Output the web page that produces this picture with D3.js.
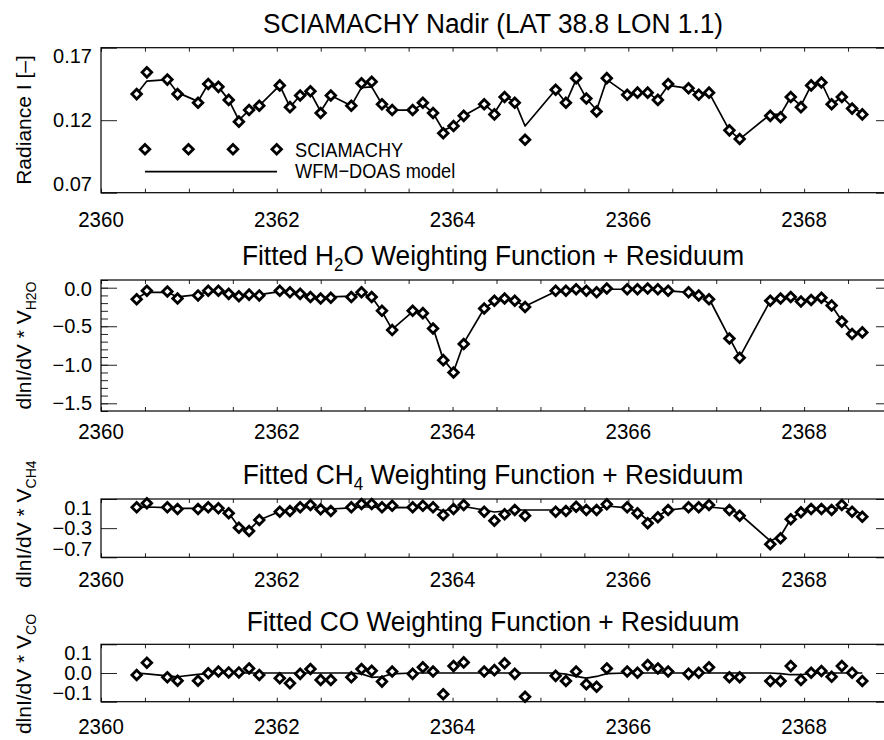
<!DOCTYPE html>
<html><head><meta charset="utf-8">
<script src="https://cdn.jsdelivr.net/npm/d3@7"></script>
<style>
body{margin:0;background:#fff}
svg{display:block}
text{font-family:"Liberation Sans",Arial,Helvetica,sans-serif;fill:#000}
</style>
</head><body>
<svg id="chart" width="884" height="740"></svg>
<script>
// ---------------- DATA ----------------
const wavelength = [2360.406,2360.522,2360.755,2360.871,2361.104,2361.220,2361.336,2361.453,2361.569,2361.685,2361.801,
  2362.034,2362.150,2362.266,2362.383,2362.499,2362.615,2362.848,2362.964,2363.080,2363.197,2363.313,
  2363.546,2363.662,2363.778,2363.894,2364.011,2364.127,2364.360,2364.476,2364.592,2364.708,2364.825,
  2365.173,2365.290,2365.406,2365.522,2365.639,2365.755,2365.987,2366.104,2366.220,2366.336,2366.453,
  2366.685,2366.801,2366.918,2367.150,2367.267,2367.615,2367.732,2367.848,2367.964,2368.080,2368.197,
  2368.313,2368.429,2368.546,2368.662];

const radianceObs = [0.138,0.153,0.148,0.138,0.132,0.145,0.143,0.134,0.119,0.127,0.130,
  0.144,0.129,0.137,0.140,0.125,0.137,0.130,0.1455,0.1465,0.131,0.127,
  0.127,0.132,0.125,0.111,0.116,0.123,0.131,0.124,0.136,0.132,0.1065,
  0.141,0.132,0.149,0.135,0.126,0.149,0.1375,0.139,0.139,0.134,0.145,
  0.142,0.1375,0.139,0.113,0.107,0.123,0.122,0.136,0.129,0.144,0.146,
  0.131,0.136,0.128,0.124];
const radianceModel = [0.138,0.147,0.148,0.139,0.133,0.145,0.143,0.134,0.120,0.127,0.130,
  0.144,0.129,0.137,0.139,0.126,0.137,0.130,0.1425,0.143,0.131,0.127,
  0.127,0.131,0.125,0.113,0.116,0.123,0.131,0.125,0.136,0.133,0.116,
  0.141,0.132,0.148,0.135,0.127,0.148,0.138,0.139,0.139,0.134,0.144,
  0.142,0.138,0.139,0.113,0.107,0.124,0.124,0.136,0.130,0.144,0.146,
  0.131,0.136,0.129,0.125];

const h2oObs = [-0.15,-0.04,-0.05,-0.14,-0.10,-0.04,-0.04,-0.08,-0.11,-0.09,-0.10,
  -0.04,-0.06,-0.08,-0.12,-0.14,-0.13,-0.12,-0.06,-0.12,-0.30,-0.55,
  -0.30,-0.33,-0.53,-0.94,-1.10,-0.73,-0.27,-0.17,-0.14,-0.17,-0.25,
  -0.04,-0.04,-0.02,-0.04,-0.06,-0.01,-0.02,-0.02,-0.01,-0.02,-0.04,
  -0.06,-0.10,-0.15,-0.66,-0.91,-0.17,-0.14,-0.12,-0.18,-0.16,-0.13,
  -0.23,-0.44,-0.60,-0.58];
const h2oModel = [-0.14,-0.06,-0.06,-0.12,-0.09,-0.05,-0.05,-0.08,-0.10,-0.09,-0.09,
  -0.05,-0.07,-0.08,-0.11,-0.13,-0.12,-0.11,-0.07,-0.12,-0.31,-0.54,
  -0.31,-0.33,-0.52,-0.93,-1.09,-0.72,-0.27,-0.18,-0.15,-0.17,-0.24,
  -0.05,-0.05,-0.03,-0.04,-0.06,-0.02,-0.02,-0.02,-0.02,-0.03,-0.04,
  -0.06,-0.10,-0.14,-0.65,-0.90,-0.17,-0.15,-0.13,-0.17,-0.16,-0.14,
  -0.23,-0.43,-0.59,-0.57];

const ch4Obs = [-0.014,0.041,-0.014,-0.037,-0.037,-0.014,-0.028,-0.096,-0.294,-0.339,-0.188,
  -0.074,-0.065,-0.014,0.018,-0.041,-0.065,-0.014,0.031,0.031,-0.014,0.008,
  -0.014,0.008,-0.014,-0.119,-0.037,0.018,-0.074,-0.198,-0.110,-0.051,-0.129,
  -0.074,-0.065,-0.006,-0.051,-0.051,0.027,-0.014,-0.096,-0.233,-0.151,-0.051,
  -0.014,-0.014,0.018,-0.051,-0.129,-0.521,-0.439,-0.178,-0.082,-0.037,-0.037,
  -0.051,0.018,-0.074,-0.143];
const ch4Model = [-0.019,-0.010,-0.019,-0.028,-0.028,-0.019,-0.028,-0.092,-0.284,-0.325,-0.188,
  -0.071,-0.051,-0.023,-0.010,-0.023,-0.037,-0.023,-0.010,-0.010,-0.017,-0.014,
  -0.017,-0.012,-0.023,-0.065,-0.030,-0.003,-0.051,-0.078,-0.065,-0.051,-0.051,
  -0.051,-0.044,-0.017,-0.037,-0.037,0.004,-0.023,-0.078,-0.188,-0.133,-0.051,
  -0.023,-0.017,-0.010,-0.037,-0.106,-0.476,-0.408,-0.174,-0.078,-0.044,-0.044,
  -0.044,-0.010,-0.051,-0.106];

const coObs = [-0.007,0.036,-0.015,-0.027,-0.027,-0.001,0.005,0.002,0.002,0.016,-0.007,
  -0.018,-0.036,-0.003,0.014,-0.024,-0.024,-0.015,0.014,0.008,-0.030,0.005,
  -0.003,0.020,0.005,-0.074,0.024,0.037,0.005,0.010,0.034,-0.003,-0.083,
  -0.010,-0.028,0.005,-0.039,-0.048,0.016,0.005,0.001,0.028,0.016,0.005,
  -0.003,0.001,0.020,-0.015,-0.015,-0.028,-0.028,0.024,-0.024,0.001,0.007,
  -0.013,0.024,0.001,-0.028];
const coModel = [0.000,-0.003,-0.010,-0.013,-0.005,-0.002,0.000,0.000,0.000,0.000,0.000,
  0.000,0.000,0.000,0.000,0.000,0.000,0.000,-0.003,-0.015,-0.013,-0.003,
  0.000,0.000,0.000,0.000,0.000,0.000,0.000,0.000,0.000,0.000,0.000,
  0.000,-0.004,-0.012,-0.018,-0.012,-0.002,0.000,0.000,0.000,0.000,0.000,
  0.000,0.000,0.000,0.000,0.000,0.000,-0.002,-0.006,-0.006,-0.001,0.000,
  0.000,0.000,0.000,0.000];

const xDomain = [2360, 2369];
const xMajorTicks = [2360, 2362, 2364, 2366, 2368];
const xTickLabels = ["2360", "2362", "2364", "2366", "2368"];
const xMinorTicks = [2360,2360.5,2361,2361.5,2362,2362.5,2363,2363.5,2364,2364.5,2365,2365.5,2366,2366.5,2367,2367.5,2368,2368.5,2369];

const p1Ticks = [0.07, 0.12, 0.17];
const p1TickLabels = ["0.07", "0.12", "0.17"];
const p2Ticks = [0.0, -0.5, -1.0, -1.5];
const p2TickLabels = ["0.0", "\u22120.5", "\u22121.0", "\u22121.5"];
const p2MinorTicks = [0.1,0.0,-0.1,-0.2,-0.3,-0.4,-0.5,-0.6,-0.7,-0.8,-0.9,-1.0,-1.1,-1.2,-1.3,-1.4,-1.5,-1.6];
const p3Ticks = [0.1, -0.3, -0.7];
const p3TickLabels = ["0.1", "\u22120.3", "\u22120.7"];
const p4Ticks = [0.1, 0.0, -0.1];
const p4TickLabels = ["0.1", "0.0", "\u22120.1"];

const legendLabels = ["SCIAMACHY", "WFM\u2212DOAS model"];

// ---------------- DRAW ----------------
const svg = d3.select("#chart");
const X0 = 101, X1 = 892;
const x = d3.scaleLinear().domain(xDomain).range([X0, X1]);
const YT_FS = 20, YT_SY = 1.0;     // y tick labels
const XT_FS = 20.5, XT_SY = 1.05;  // x tick labels

const diamond = {draw(ctx, size){const r = Math.sqrt(size/2); ctx.moveTo(0,-r); ctx.lineTo(r,0); ctx.lineTo(0,r); ctx.lineTo(-r,0); ctx.closePath();}};
const sym = d3.symbol().type(diamond).size(46);

function label(parent, px, py, str, fs, anchor, sy){
  return parent.append("text").attr("transform", `translate(${px},${py}) scale(1,${sy})`)
    .attr("text-anchor", anchor).attr("font-size", fs).text(str);
}

function title(parts, yb){
  const t = svg.append("text").attr("transform", `translate(493,${yb}) scale(1,1.05)`).attr("text-anchor","middle").attr("font-size", 26.3);
  parts.forEach(p => {
    const ts = t.append("tspan").text(p.t);
    if (p.sub) ts.attr("font-size", 17).attr("dy", 6);
    if (p.after) ts.attr("dy", -6);
  });
}

function ylabel(parts, cy){
  const t = svg.append("text").attr("transform", `translate(31,${cy}) rotate(-90)`).attr("text-anchor","middle").attr("font-size", 21);
  parts.forEach(p => {
    const ts = t.append("tspan").text(p.t);
    if (p.sub) ts.attr("font-size", 14).attr("dy", 5);
  });
}

function panel(cfg){
  const y = d3.scaleLinear().domain(cfg.domain).range([cfg.bottom, cfg.top]);
  const g = svg.append("g");
  g.append("g").attr("transform", `translate(0,${cfg.bottom})`)
    .call(d3.axisBottom(x).tickValues(xMinorTicks).tickSize(-4).tickFormat(""))
    .call(a => a.select(".domain").remove());
  g.append("g").attr("transform", `translate(0,${cfg.top})`)
    .call(d3.axisTop(x).tickValues(xMinorTicks).tickSize(-4).tickFormat(""))
    .call(a => a.select(".domain").remove());
  if (cfg.minor){
    g.append("g").attr("transform", `translate(${X0},0)`)
      .call(d3.axisLeft(y).tickValues(cfg.minor).tickSize(-7).tickFormat(""))
      .call(a => a.select(".domain").remove());
    g.append("g").attr("transform", `translate(${X1},0)`)
      .call(d3.axisRight(y).tickValues(cfg.minor).tickSize(-7).tickFormat(""))
      .call(a => a.select(".domain").remove());
  }
  g.append("g").attr("transform", `translate(${X0},0)`)
    .call(d3.axisLeft(y).tickValues(cfg.ticks).tickSize(-16).tickFormat(""))
    .call(a => a.select(".domain").remove());
  g.append("g").attr("transform", `translate(${X1},0)`)
    .call(d3.axisRight(y).tickValues(cfg.ticks).tickSize(-16).tickFormat(""))
    .call(a => a.select(".domain").remove());
  g.selectAll(".tick line").attr("stroke", "#222").attr("stroke-width", 1);
  g.append("rect").attr("x", X0).attr("y", cfg.top).attr("width", X1 - X0).attr("height", cfg.bottom - cfg.top)
    .attr("fill", "none").attr("stroke", "#000").attr("stroke-width", 1.2);
  const half = 0.358 * YT_FS * YT_SY;
  cfg.ticks.forEach((v, i) => {
    const cy = Math.min(Math.max(y(v), cfg.top + half + 1.3), cfg.bottom - half - 1.3);
    label(g, 92, cy + half, cfg.labels[i], YT_FS, "end", YT_SY);
  });
  xMajorTicks.forEach((v, i) => {
    label(g, x(v), cfg.xlab, xTickLabels[i], XT_FS, "middle", XT_SY);
  });
  const rows = wavelength.map((w, i) => ({w, o: cfg.obs[i], m: cfg.model[i]}));
  g.append("path").datum(rows)
    .attr("d", d3.line().x(d => x(d.w)).y(d => y(d.m)))
    .attr("fill", "none").attr("stroke", "#000").attr("stroke-width", 1.7).attr("stroke-linejoin", "round");
  g.selectAll("path.pt").data(rows).join("path").attr("class", "pt")
    .attr("transform", d => `translate(${x(d.w)},${y(d.o)})`)
    .attr("d", sym).attr("fill", "#fff").attr("stroke", "#000").attr("stroke-width", 2.8);
  return y;
}

// Panel 1
panel({top: 47.7, bottom: 192.7, domain: [0.07, 0.17], ticks: p1Ticks, labels: p1TickLabels,
  obs: radianceObs, model: radianceModel, xlab: 227});
title([{t: "SCIAMACHY Nadir (LAT 38.8 LON 1.1)"}], 32.5);
ylabel([{t: "Radiance I [\u2013]"}], 120);

// legend
const lg = svg.append("g");
[145, 188.5, 233, 276.7].forEach(px => {
  lg.append("path").attr("transform", `translate(${px},149.3)`).attr("d", sym)
    .attr("fill", "#fff").attr("stroke", "#000").attr("stroke-width", 2.8);
});
lg.append("line").attr("x1", 145).attr("x2", 277).attr("y1", 171.7).attr("y2", 171.7).attr("stroke", "#000").attr("stroke-width", 1.7);
label(lg, 295, 156.7, legendLabels[0], 18.2, "start", 1.12);
label(lg, 295, 178, legendLabels[1], 18.2, "start", 1.12);

// Panel 2
panel({top: 280, bottom: 411, domain: [-1.6, 0.1], ticks: p2Ticks, labels: p2TickLabels, minor: p2MinorTicks,
  obs: h2oObs, model: h2oModel, xlab: 438.5});
title([{t: "Fitted H"}, {t: "2", sub: true}, {t: "O Weighting Function + Residuum", after: true}], 265);
ylabel([{t: "dlnI/dV * V"}, {t: "H2O", sub: true}], 345.5);

// Panel 3
panel({top: 499, bottom: 557.3, domain: [-0.7, 0.1], ticks: p3Ticks, labels: p3TickLabels,
  obs: ch4Obs, model: ch4Model, xlab: 587});
title([{t: "Fitted CH"}, {t: "4", sub: true}, {t: " Weighting Function + Residuum", after: true}], 483.5);
ylabel([{t: "dlnI/dV * V"}, {t: "CH4", sub: true}], 524);

// Panel 4
panel({top: 644.3, bottom: 701.7, domain: [-0.1, 0.1], ticks: p4Ticks, labels: p4TickLabels,
  obs: coObs, model: coModel, xlab: 733.5});
title([{t: "Fitted CO Weighting Function + Residuum"}], 630.5);
ylabel([{t: "dlnI/dV * V"}, {t: "CO", sub: true}], 674);
</script>
</body></html>
